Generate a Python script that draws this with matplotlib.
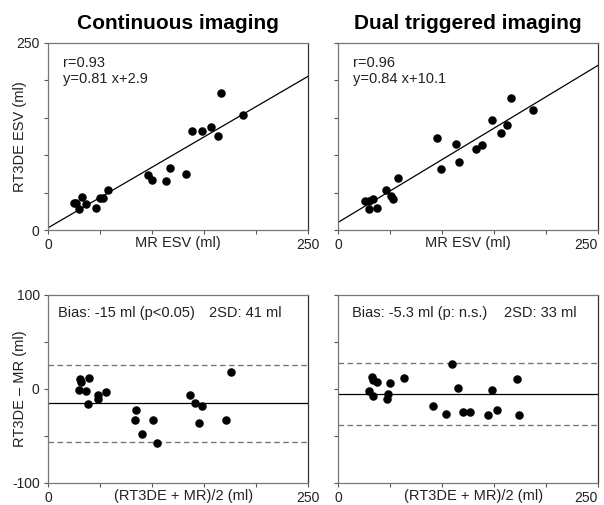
import matplotlib
matplotlib.use("Agg")
import matplotlib.pyplot as plt

plt.rcParams['font.family'] = ['Liberation Sans', 'DejaVu Sans']

# Continuous imaging: MR ESV vs RT3DE ESV
cont_mr = [24.7, 27.2, 29.8, 33.0, 36.9, 45.8, 50.3, 52.9, 57.4, 96.2,
           99.7, 113.8, 117.0, 133.0, 138.8, 148.4, 156.7, 163.1, 166.3, 187.8]
cont_rt = [35.6, 35.6, 28.5, 44.5, 34.7, 29.4, 43.1, 42.3, 53.4, 73.0,
           66.7, 65.4, 83.2, 75.2, 131.7, 132.6, 137.9, 125.9, 183.7, 153.5]

# Dual triggered imaging
dual_mr = [26.2, 30.1, 29.4, 33.6, 37.4, 46.0, 50.8, 52.7, 57.5, 95.6,
           99.4, 113.8, 116.7, 132.7, 138.4, 148.3, 156.6, 162.7, 165.9, 187.3]
dual_rt = [39.1, 28.0, 38.3, 40.9, 28.9, 52.9, 44.9, 41.8, 69.4, 122.8,
           81.4, 115.2, 90.7, 107.7, 113.9, 147.7, 129.4, 141.0, 177.0, 160.1]

# Bland-Altman, continuous
ba_cont_mean = [29.8, 31.1, 32.1, 36.2, 39.4, 38.5, 47.8, 47.8, 56.1, 84.9,
                83.7, 90.4, 101.0, 104.8, 136.2, 141.7, 148.0, 145.2, 171.5, 176.0]
ba_cont_diff = [-0.7, 10.7, 7.8, -2.5, 11.4, -16.0, -6.0, -10.7, -3.2, -22.4,
                -33.0, -48.0, -33.4, -57.5, -6.0, -14.9, -18.5, -36.6, -33.4, 18.1]

# Bland-Altman, dual triggered
ba_dual_mean = [29.5, 32.7, 33.7, 37.5, 33.7, 49.7, 48.4, 47.4, 63.8, 91.3,
                104.2, 109.9, 115.1, 120.5, 126.9, 143.9, 148.4, 152.6, 172.1, 174.4]
ba_dual_diff = [-2.1, 12.8, 9.9, 7.1, -7.8, 6.7, -5.3, -10.7, 12.1, -17.8,
                -26.3, 26.6, 1.1, -24.9, -24.9, -27.4, -0.7, -22.7, 10.7, -27.4]

titles = ['Continuous imaging', 'Dual triggered imaging']
fits = [(0.81, 2.9, 'r=0.93\ny=0.81 x+2.9'), (0.84, 10.1, 'r=0.96\ny=0.84 x+10.1')]
bias = [(-15, 41, 'Bias: -15 ml (p<0.05)', '2SD: 41 ml'),
        (-5.3, 33, 'Bias: -5.3 ml (p: n.s.)', '2SD: 33 ml')]

fig = plt.figure(figsize=(6.04, 5.05), dpi=100)
W, H = 604.0, 505.0


def make_ax(x0, y0, x1, y1):
    ax = fig.add_axes([x0 / W, 1 - y1 / H, (x1 - x0) / W, (y1 - y0) / H])
    for s in ['left', 'bottom', 'top']:
        ax.spines[s].set_color('#777777')
        ax.spines[s].set_linewidth(0.9)
    ax.spines['right'].set_color('#333333')
    ax.spines['right'].set_linewidth(0.9)
    ax.tick_params(direction='out', length=3, width=0.8, color='#555555',
                   labelsize=10, pad=3, labelcolor='#222222')
    return ax


def fix_last_xlabel(ax, i):
    # the right panels have their "250" pushed in from the figure edge
    if i == 1:
        lbl = ax.get_xticklabels()[-1]
        lbl.set_horizontalalignment('right')


lefts = [48, 338]
scatter_data = [(cont_mr, cont_rt), (dual_mr, dual_rt)]
ba_data = [(ba_cont_mean, ba_cont_diff), (ba_dual_mean, ba_dual_diff)]

for i in range(2):
    x0 = lefts[i]
    # top scatter panels
    ax = make_ax(x0, 43, x0 + 260, 230)
    mx, ry = scatter_data[i]
    slope, icpt, txt = fits[i]
    ax.plot([0, 250], [icpt, slope * 250 + icpt], color='black', lw=0.9)
    ax.scatter(mx, ry, s=26, color='black', zorder=3)
    ax.set_xlim(0, 250)
    ax.set_ylim(0, 250)
    ax.set_xticks([0, 50, 100, 150, 200, 250])
    ax.set_xticklabels(['0', '', '', '', '', '250'])
    fix_last_xlabel(ax, i)
    ax.set_yticks([0, 50, 100, 150, 200, 250])
    if i == 0:
        ax.set_yticklabels(['0', '', '', '', '', '250'])
        ax.set_ylabel('RT3DE ESV (ml)', fontsize=10.5, color='#222222')
        ax.yaxis.set_label_coords(-0.082, 0.5)
    else:
        ax.set_yticklabels([])
    ax.set_xlabel('MR ESV (ml)', fontsize=10.5, color='#222222')
    ax.xaxis.set_label_coords(0.5, -0.032)
    ax.set_title(titles[i], fontsize=15, fontweight='bold', pad=10)
    ax.text(0.058, 0.93, txt, transform=ax.transAxes, ha='left', va='top',
            fontsize=10.5, linespacing=1.2, color='#222222')

    # bottom Bland-Altman panels
    ax = make_ax(x0, 295, x0 + 260, 483)
    bm, bd = ba_data[i]
    b, sd, btxt, sdtxt = bias[i]
    ax.axhline(b, color='black', lw=0.9)
    ax.axhline(b + sd, color='#777777', lw=1.0, ls=(0, (4, 2.5)))
    ax.axhline(b - sd, color='#777777', lw=1.0, ls=(0, (4, 2.5)))
    ax.scatter(bm, bd, s=26, color='black', zorder=3)
    ax.set_xlim(0, 250)
    ax.set_ylim(-100, 100)
    ax.set_xticks([0, 50, 100, 150, 200, 250])
    ax.set_xticklabels(['0', '', '', '', '', '250'])
    fix_last_xlabel(ax, i)
    ax.set_yticks([-100, -50, 0, 50, 100])
    if i == 0:
        ax.set_yticklabels(['-100', '', '0', '', '100'])
        ax.set_ylabel('RT3DE \u2013 MR (ml)', fontsize=10.5, color='#222222')
        ax.yaxis.set_label_coords(-0.082, 0.5)
    else:
        ax.set_yticklabels([])
    ax.set_xlabel('(RT3DE + MR)/2 (ml)', fontsize=10.5, color='#222222')
    ax.xaxis.set_label_coords(0.52, -0.032)
    ax.text(0.04 if i == 0 else 0.055, 0.905, btxt, transform=ax.transAxes,
            ha='left', va='center', fontsize=10.5, color='#222222')
    ax.text(0.62 if i == 0 else 0.637, 0.905, sdtxt, transform=ax.transAxes,
            ha='left', va='center', fontsize=10.5, color='#222222')

fig.savefig('out.png', dpi=100)
